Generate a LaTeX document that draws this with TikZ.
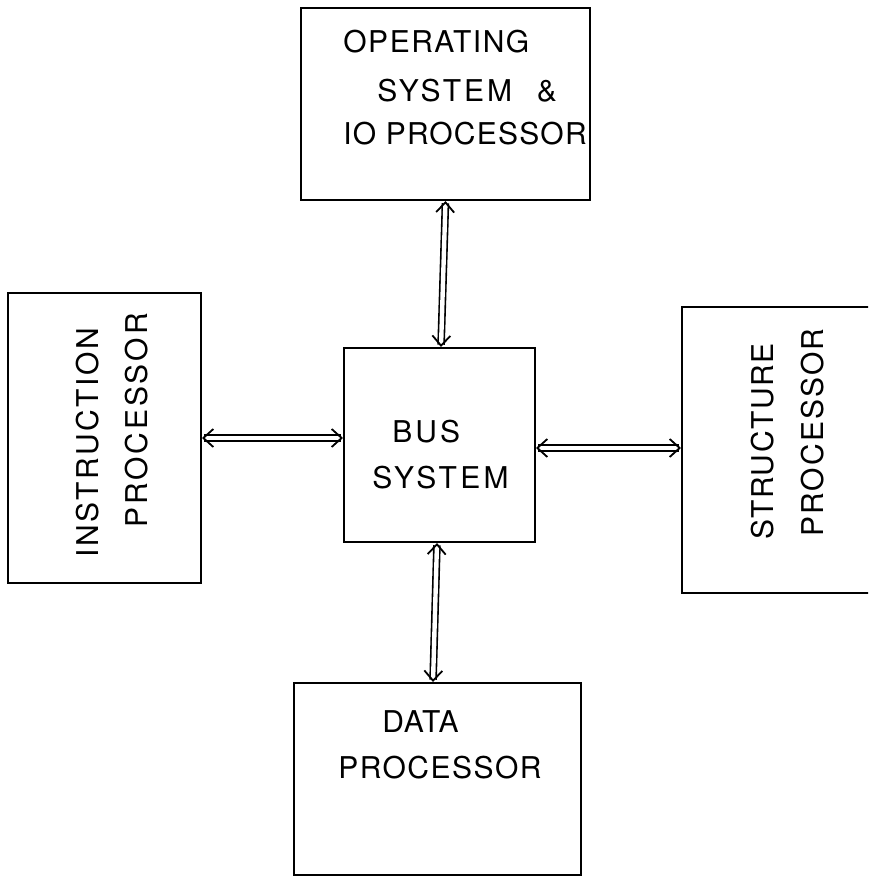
\documentclass[tikz,border=0pt]{standalone}
\usepackage{fontspec}
\setmainfont{TeX Gyre Heros}
\usetikzlibrary{arrows.meta}

\begin{document}
\begin{tikzpicture}[x=0.5pt,y=-0.5pt,
  blk/.style={draw, line width=1pt, rectangle, inner sep=0pt},
  lbl/.style={anchor=base west, inner sep=0pt,
    font=\fontsize{15}{18}\selectfont\addfontfeature{LetterSpace=#1}},
  lbl/.default=6,
  vlbl/.style={lbl=#1, rotate=90},
  vlbl/.default=6,
  barb/.tip={Straight Barb[length=5pt,width=9pt,line width=0.9pt]},
  link/.style={double, double distance=2.2pt, line width=0.8pt, {barb}-{barb}}]

\useasboundingbox (0,0) rectangle (868,877);
\clip (0,0) rectangle (868,877);

% blocks
\node[blk, minimum width=144.5pt, minimum height=96pt] (os) at (445.5,104) {};
\node[blk, minimum width=95.5pt, minimum height=97pt] (bus) at (439.5,445) {};
\node[blk, minimum width=96.5pt, minimum height=145pt] (instr) at (104.5,438) {};
\node[blk, minimum width=109pt, minimum height=143pt] (struct) at (791,450) {};
\node[blk, minimum width=143.5pt, minimum height=96pt] (data) at (437.5,779) {};

% labels
\node[lbl=5] (osA) at (343,53) {OPERATING};
\node[lbl=10] (osB) at (377,102) {SYSTEM\hspace{12.3pt}\&};
\node[lbl=4] (osC) at (343,145) {IO PROCESSOR};
\node[lbl=10] (busA) at (392,442) {BUS};
\node[lbl=11] (busB) at (372,488) {SYSTEM};
\node[vlbl=8.7] (inA) at (98,558) {INSTRUCTION};
\node[vlbl=9.6] (inB) at (147,528) {PROCESSOR};
\node[vlbl=5.4] (stA) at (773,540) {STRUCTURE};
\node[vlbl=7] (stB) at (823,537) {PROCESSOR};
\node[lbl=3.3] (daA) at (382,732) {DATA};
\node[lbl=5] (daB) at (338,778) {PROCESSOR};

% bus connections
\draw[link] (os.south) -- ([xshift=0.75pt]bus.north);
\draw[link] (instr.east) -- (instr.east -| bus.west);
\draw[link] ([yshift=-1.5pt]bus.east) -- ([yshift=-1.5pt]bus.east -| struct.west);
\draw[link] ([xshift=-1.25pt]bus.south) -- ([xshift=-2.25pt]data.north);
\end{tikzpicture}
\end{document}
